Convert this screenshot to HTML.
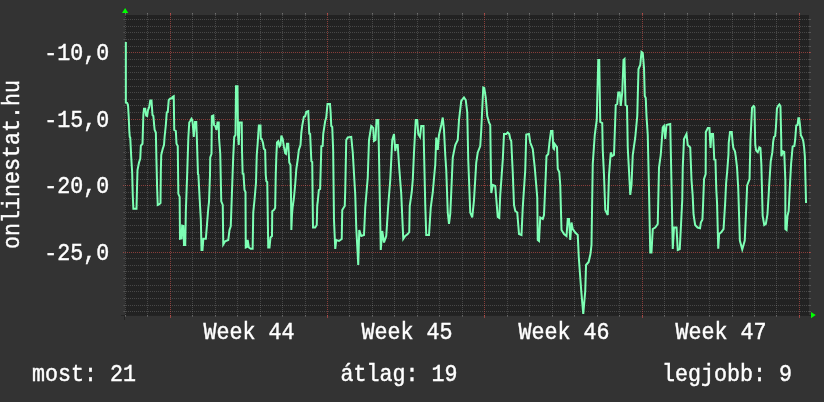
<!DOCTYPE html>
<html><head><meta charset="utf-8"><style>
html,body{margin:0;padding:0;width:824px;height:402px;overflow:hidden;background:#333333;}
svg{position:absolute;left:0;top:0;will-change:transform;}
text{font-family:"Liberation Mono",monospace;font-size:21.67px;fill:#ffffff;stroke:#ffffff;stroke-width:0.4px;white-space:pre;}
</style></head><body>
<svg width="824" height="402" viewBox="0 0 824 402" shape-rendering="crispEdges">
<rect x="125" y="15" width="684" height="301" fill="#222222"/>
<path d="M121 315.5H813M124.5 316V320" stroke="#242424" stroke-width="1" fill="none"/>
<path d="M124 19.5H810M124 26.5H810M124 32.5H810M124 39.5H810M124 46.5H810M124 59.5H810M124 66.5H810M124 72.5H810M124 79.5H810M124 86.5H810M124 92.5H810M124 99.5H810M124 105.5H810M124 112.5H810M124 125.5H810M124 132.5H810M124 139.5H810M124 145.5H810M124 152.5H810M124 159.5H810M124 165.5H810M124 172.5H810M124 179.5H810M124 192.5H810M124 198.5H810M124 205.5H810M124 212.5H810M124 218.5H810M124 225.5H810M124 232.5H810M124 238.5H810M124 245.5H810M124 258.5H810M124 265.5H810M124 271.5H810M124 278.5H810M124 285.5H810M124 291.5H810M124 298.5H810M124 305.5H810M124 311.5H810" stroke="rgba(255,255,255,0.17)" stroke-width="1" fill="none" stroke-dasharray="1 1"/>
<path d="M809 19.5H811M809 26.5H811M809 32.5H811M809 39.5H811M809 46.5H811M809 59.5H811M809 66.5H811M809 72.5H811M809 79.5H811M809 86.5H811M809 92.5H811M809 99.5H811M809 105.5H811M809 112.5H811M809 125.5H811M809 132.5H811M809 139.5H811M809 145.5H811M809 152.5H811M809 159.5H811M809 165.5H811M809 172.5H811M809 179.5H811M809 192.5H811M809 198.5H811M809 205.5H811M809 212.5H811M809 218.5H811M809 225.5H811M809 232.5H811M809 238.5H811M809 245.5H811M809 258.5H811M809 265.5H811M809 271.5H811M809 278.5H811M809 285.5H811M809 291.5H811M809 298.5H811M809 305.5H811M809 311.5H811M125.5 13V15M125.5 315V317M147.5 13V15M147.5 315V317M192.5 13V15M192.5 315V317M215.5 13V15M215.5 315V317M237.5 13V15M237.5 315V317M260.5 13V15M260.5 315V317M282.5 13V15M282.5 315V317M305.5 13V15M305.5 315V317M349.5 13V15M349.5 315V317M372.5 13V15M372.5 315V317M394.5 13V15M394.5 315V317M417.5 13V15M417.5 315V317M439.5 13V15M439.5 315V317M462.5 13V15M462.5 315V317M507.5 13V15M507.5 315V317M529.5 13V15M529.5 315V317M552.5 13V15M552.5 315V317M574.5 13V15M574.5 315V317M597.5 13V15M597.5 315V317M619.5 13V15M619.5 315V317M664.5 13V15M664.5 315V317M687.5 13V15M687.5 315V317M709.5 13V15M709.5 315V317M732.5 13V15M732.5 315V317M754.5 13V15M754.5 315V317M776.5 13V15M776.5 315V317" stroke="rgba(255,255,255,0.17)" stroke-width="1" fill="none"/>
<path d="M123 19.5H124M123 26.5H124M123 32.5H124M123 39.5H124M123 46.5H124M123 59.5H124M123 66.5H124M123 72.5H124M123 79.5H124M123 86.5H124M123 92.5H124M123 99.5H124M123 105.5H124M123 112.5H124M123 125.5H124M123 132.5H124M123 139.5H124M123 145.5H124M123 152.5H124M123 159.5H124M123 165.5H124M123 172.5H124M123 179.5H124M123 192.5H124M123 198.5H124M123 205.5H124M123 212.5H124M123 218.5H124M123 225.5H124M123 232.5H124M123 238.5H124M123 245.5H124M123 258.5H124M123 265.5H124M123 271.5H124M123 278.5H124M123 285.5H124M123 291.5H124M123 298.5H124M123 305.5H124M123 311.5H124" stroke="rgba(255,255,255,0.09)" stroke-width="1" fill="none"/>
<path d="M123 52.5H811M123 119.5H811M123 185.5H811M123 252.5H811" stroke="rgba(220,85,80,0.55)" stroke-width="1" fill="none" stroke-dasharray="1 1"/>
<path d="M809 52.5H811M809 119.5H811M809 185.5H811M809 252.5H811M170.5 13V15M170.5 315V317M327.5 13V15M327.5 315V317M484.5 13V15M484.5 315V317M642.5 13V15M642.5 315V317M799.5 13V15M799.5 315V317" stroke="rgba(220,85,80,0.55)" stroke-width="1" fill="none"/>
<path d="M125.5 316V13M147.5 316V13M192.5 316V13M215.5 316V13M237.5 316V13M260.5 316V13M282.5 316V13M305.5 316V13M349.5 316V13M372.5 316V13M394.5 316V13M417.5 316V13M439.5 316V13M462.5 316V13M507.5 316V13M529.5 316V13M552.5 316V13M574.5 316V13M597.5 316V13M619.5 316V13M664.5 316V13M687.5 316V13M709.5 316V13M732.5 316V13M754.5 316V13M776.5 316V13" stroke="rgba(255,255,255,0.17)" stroke-width="1" fill="none" stroke-dasharray="1 1"/>
<path d="M170.5 318V13M327.5 318V13M484.5 318V13M642.5 318V13M799.5 318V13" stroke="rgba(220,85,80,0.55)" stroke-width="1" fill="none" stroke-dasharray="1 1"/>
<path d="M122 13H128.25L125.1 8Z" fill="#00ff00" shape-rendering="geometricPrecision"/>
<path d="M811 312V318.25L815.75 315.1Z" fill="#00ff00" shape-rendering="geometricPrecision"/>
<path d="M125.85 42 125.85 102.5 127.15 103 128.0 105 128.75 117.5 129.25 130 129.75 137 130.25 137.5 131.25 157.5 132.15 172 132.75 195 133.35 208.75 136.5 208.75 137.15 182.5 137.5 170 139.0 162.5 140.25 158.75 140.85 145.6 142.5 143.75 143.35 115 144.0 108.75 145.25 108.75 146.15 115.6 147.15 116 148.0 110 149.25 107 150.25 100.6 151.5 100.6 152.5 115 153.35 116 154.25 126 154.65 130 155.85 132.5 156.5 162.5 157.15 188.75 157.75 205 159.0 204.5 160.5 203 160.85 170 161.25 155 162.75 148.75 164.0 145 164.65 136.25 165.85 125 166.75 112.5 167.75 112 168.75 100 170.25 98.5 171.75 98.5 172.5 97 173.75 96.25 174.25 130 175.85 131 176.5 143.75 177.75 146 178.35 193.75 179.65 197 180.0 238.75 181.5 238.5 182.15 225.6 183.35 226 184.0 245 185.25 245 185.85 211 187.15 175 188.35 137.5 189.25 122.5 190.25 121 191.5 118.75 192.35 120 193.15 128.75 193.75 137 195.0 122 196.25 122 196.75 135 198.0 175 198.35 174 199.65 198.75 200.85 220 201.5 250 202.5 250 203.35 238.75 205.85 238.75 207.75 215 208.35 207.5 209.0 202 210.0 175 210.25 157.5 211.5 153.75 211.85 116.25 213.35 115.6 214.0 125 215.25 126 216.5 130 217.5 122.5 218.75 122.5 219.0 137.5 220.25 153.75 221.25 201.25 222.75 205 223.25 244.4 225.15 241.25 228.25 240 229.5 230 230.75 226.25 231.35 210 232.65 172.5 233.25 156.25 234.25 136.9 235.5 135 236.0 86.25 237.5 86.25 238.0 135 238.75 145 239.5 122.5 241.75 122.5 242.0 150 242.65 173.75 243.5 174 244.5 190 245.5 192 245.75 247.5 246.75 247 247.65 240 248.85 247.5 250.75 248.75 252.65 248.75 253.25 212.5 254.5 200 256.0 182.5 256.75 155 257.65 143.75 258.85 125.6 260.5 125.6 260.75 138.75 261.75 139 263.0 143 263.85 148.75 265.15 150 265.75 175 266.35 181.25 267.25 182 268.25 247.5 269.5 247.5 270.5 237.5 272.0 236 272.25 211.25 273.85 210 275.15 208 275.75 175 276.35 156.25 277.0 142.5 278.25 141.25 279.5 146.25 280.5 145 281.35 135.6 282.65 138.75 283.85 146.25 285.15 153.1 286.0 153.75 287.0 143.75 288.25 143.75 289.25 162.5 290.5 165 291.0 195 291.35 230 292.0 215 292.65 207 293.85 198.75 295.15 185 296.35 168.75 297.65 160 298.85 150 300.5 145 301.35 132.5 302.25 125.6 303.85 116.9 305.15 116.25 306.35 111.9 308.25 111.25 309.25 133.75 310.15 134 311.35 161.25 312.25 162 312.65 200 313.0 227.5 315.15 227.5 316.75 225 317.25 205 317.65 202.5 318.85 190 320.15 189 321.35 146.25 322.65 146 323.25 133.75 325.15 121.25 326.25 117.5 327.5 104 330.0 104 330.65 112.5 331.25 126 332.25 127 333.15 150 334.0 220 335.25 249 336.25 240 339.0 241 341.75 239 342.25 210 344.75 206 345.25 190 346.25 140 347.75 137.5 351.25 137 352.75 152.5 355.25 195 356.25 227.5 358.25 265 359.25 230 361.25 236 364.0 235 365.25 207.5 367.75 177.5 369.0 140 371.25 126 373.25 128 374.0 141 375.5 140 376.5 120 378.25 120 378.75 142.5 380.75 250 382.25 231 384.0 242.5 386.25 236 388.25 205 390.25 180 392.25 140 394.0 134 395.25 151 396.25 145 397.75 145 399.0 165 401.25 194 403.25 239 405.25 236 407.75 234 409.25 232 409.75 206 411.75 192 412.75 180 414.0 152.5 415.75 120 417.25 120 418.25 134 420.0 137 421.25 126 423.5 126 424.0 150 425.25 205 426.25 235 429.0 235 430.75 207.5 432.75 192.5 434.75 170 435.25 165 436.25 137.5 437.75 150 439.0 135 441.25 125 442.75 117.5 444.0 130 445.25 155 446.25 170 447.75 212.5 449.0 224 450.25 214 451.25 192.5 452.75 157.5 455.25 145 457.75 140 459.0 120 461.25 101 464.0 97.5 465.75 100 467.25 112.5 468.25 160 470.25 212.5 472.25 217.5 474.0 200 476.25 162.5 477.75 152.5 480.25 146 481.25 130 483.25 87.5 484.25 88 485.75 97.5 487.25 116 489.0 122.5 490.25 125 491.25 193 492.75 185 495.25 186 497.75 217 499.25 218 500.25 195 502.75 160 504.0 134 506.25 134 507.75 132.5 509.25 134 510.25 139 511.25 141 512.75 172.5 514.0 205 515.25 211 517.25 212.5 519.0 234 521.5 235 522.75 207.5 525.25 170 526.25 134.5 529.0 134 530.25 142.5 532.75 149 534.75 167.5 537.25 197.5 537.75 240 539.0 241 540.25 217.5 542.75 219 544.0 215 545.75 175 546.5 156 548.25 154 549.5 142 551.0 131 552.5 131 553.25 148 554.0 149 554.75 144 556.25 146 557.0 147 557.75 169 559.25 172 560.25 185 561.5 230 564.0 234 566.5 236 567.75 219 569.0 219 570.25 240 571.5 222.5 572.75 229 575.25 232.5 577.75 235 578.75 257 581.25 291 583.25 314 585.25 291 586.05 265 588.65 262 590.45 254 591.5 245 592.75 164 594.75 135 596.75 120 598.25 60 599.25 60 600.25 122 602.25 123 602.75 150 604.0 175 605.25 210 606.5 212.5 607.75 215 609.0 175 610.75 152.5 612.25 156 614.0 155 615.75 105 617.25 104 618.25 92.5 619.75 92.5 620.75 106 622.25 92.5 623.5 60 624.5 59 625.5 105 627.0 106 627.75 147.5 629.0 171 630.25 195 631.5 185 632.75 155 635.25 137.5 637.25 116 638.5 69 640.25 65 641.5 52 642.75 53 644.0 67.5 644.75 96 645.75 98 646.5 116 647.75 135 649.0 190 650.25 252.5 651.5 252.5 652.75 229 655.25 227.5 657.75 224 659.0 167.5 660.75 155 662.75 127.5 664.0 126 665.25 139 666.5 125 668.25 124.5 670.25 124 671.5 185 672.75 249 674.0 227.5 676.5 227.5 677.75 250 679.75 249 680.75 230 682.25 200 682.75 167.5 684.0 139 686.5 134 687.75 145 690.25 147.5 691.5 180 692.65 195 693.55 214.5 695.15 225 697.55 227.5 700.05 228.3 700.85 222.6 702.45 219.4 703.25 200 704.05 179 705.65 174 705.85 132 707.85 128 709.45 128 710.05 140 710.55 148 711.35 134 713.05 134 713.85 150 714.25 159.5 715.45 160 716.25 188.8 717.05 203 718.25 248.7 719.15 234 721.15 232.4 723.55 229.1 725.25 201.5 726.05 184 727.35 169.3 728.45 154.6 728.75 142.6 730.05 132 731.75 132 732.85 145 733.35 148 734.95 151.4 735.75 156.3 737.05 167.6 738.25 188.8 739.85 240.5 742.25 249.5 744.75 240.5 746.35 205 747.15 185.5 749.55 179 750.45 140 752.05 107.6 753.65 106 754.45 107 755.25 145 756.15 150.6 757.75 152.2 759.35 147.3 760.45 148 761.35 164.4 762.65 216 764.25 225 765.85 224 767.45 214.5 768.65 195 769.15 185.5 770.75 161 772.35 152.2 773.15 141.8 773.95 137 775.15 136 775.95 127 776.95 108.5 778.05 106 779.35 104.4 780.45 106 781.25 140 781.35 156.3 782.95 151.4 784.25 152 785.35 180.7 785.35 229 786.55 230 787.45 216 788.65 211 789.75 188.8 791.05 164.4 792.65 146.5 794.35 146 795.15 140 796.25 125.5 797.55 125 798.35 118.2 799.15 118.2 800.05 125.5 800.85 135.3 802.15 137.7 803.25 141 804.05 146.5 804.85 156.3 806.05 203" stroke="#7dffb4" stroke-width="2.0" fill="none" stroke-linejoin="miter" shape-rendering="geometricPrecision"/>
<text x="44.3" y="60" transform="translate(0 60) scale(1 1.067) translate(0 -60)">-10,0</text><text x="44.3" y="127" transform="translate(0 127) scale(1 1.067) translate(0 -127)">-15,0</text><text x="44.3" y="193" transform="translate(0 193) scale(1 1.067) translate(0 -193)">-20,0</text><text x="44.3" y="260" transform="translate(0 260) scale(1 1.067) translate(0 -260)">-25,0</text><text x="203.5" y="339" transform="translate(0 339) scale(1 1.067) translate(0 -339)">Week 44</text><text x="361.5" y="339" transform="translate(0 339) scale(1 1.067) translate(0 -339)">Week 45</text><text x="518.5" y="339" transform="translate(0 339) scale(1 1.067) translate(0 -339)">Week 46</text><text x="675.5" y="339" transform="translate(0 339) scale(1 1.067) translate(0 -339)">Week 47</text><text x="32" y="381" transform="translate(0 381) scale(1 1.067) translate(0 -381)">most: 21</text><text x="340.5" y="381" transform="translate(0 381) scale(1 1.067) translate(0 -381)">átlag: 19</text><text x="662" y="381" transform="translate(0 381) scale(1 1.067) translate(0 -381)">legjobb: 9</text>
<text x="0" y="0" transform="translate(19 249) rotate(-90) scale(1 1.067)">onlinestat.hu</text>
</svg>
</body></html>
